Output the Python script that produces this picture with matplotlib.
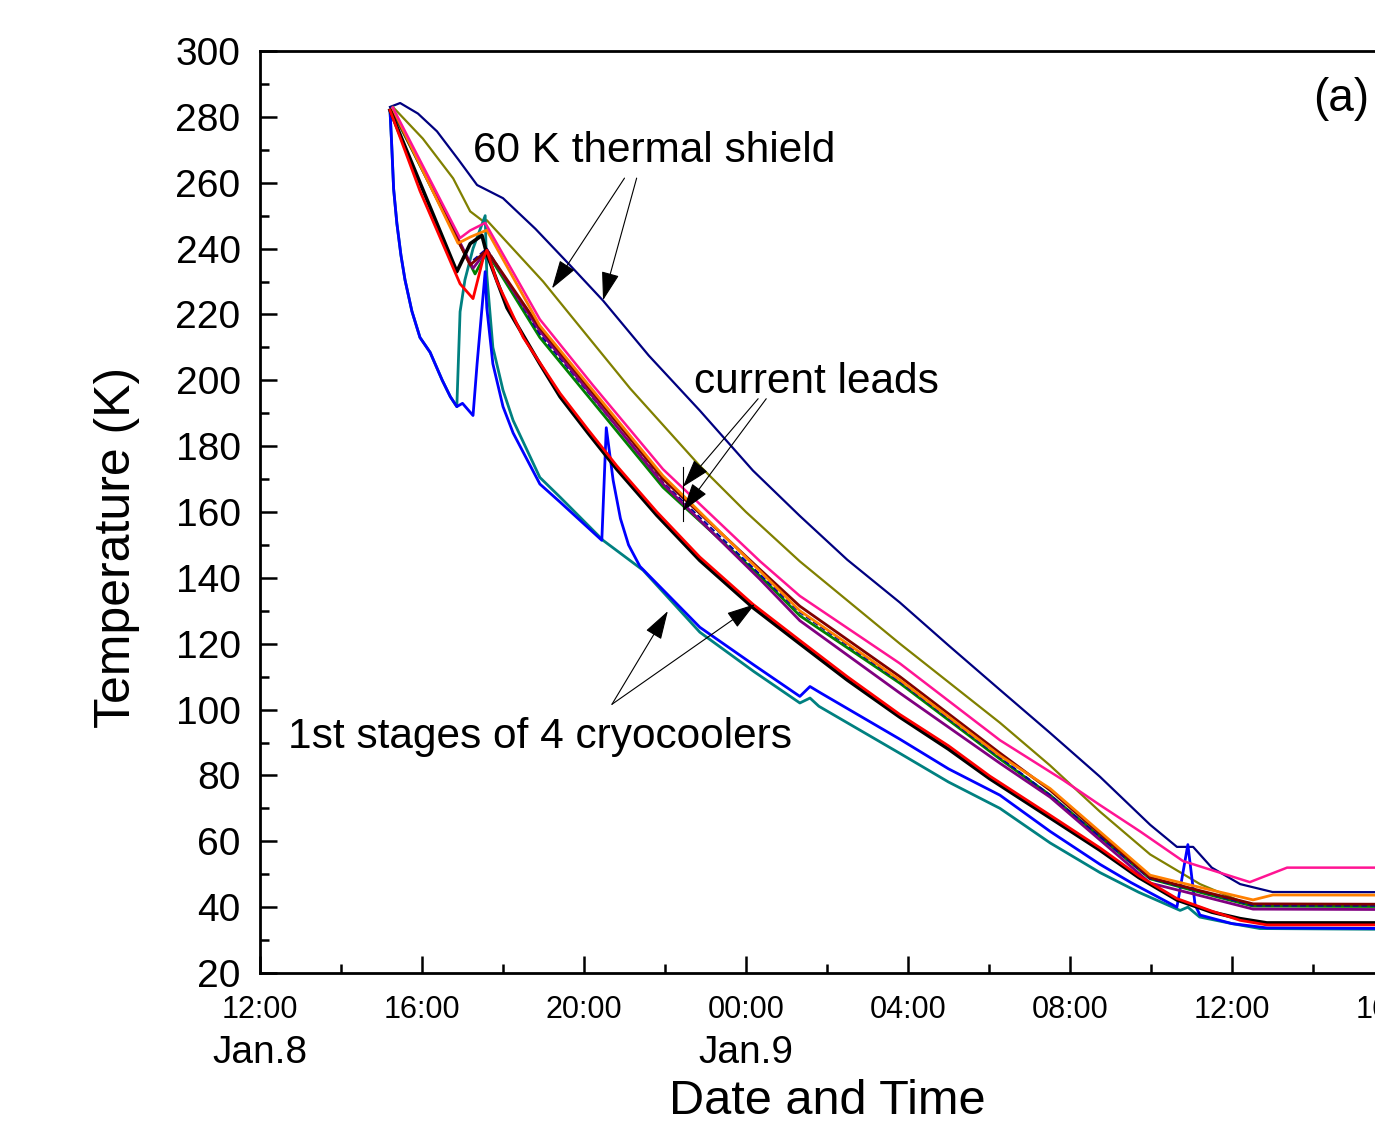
import matplotlib
matplotlib.use('Agg')
import matplotlib.pyplot as plt
from matplotlib.ticker import MultipleLocator

plt.rcParams['font.family'] = ['Liberation Sans', 'DejaVu Sans']

# time in hours after 12:00 Jan.8, temperature in K
navy_h = [3.21, 3.46, 3.9, 4.37, 4.9, 5.36, 6.0, 6.8, 7.65, 8.47, 9.6, 10.86, 12.17, 13.33, 14.5, 15.8, 17.0, 18.27, 19.5, 20.74, 21.98, 22.64, 23.04, 23.5, 24.2, 25.0, 30.0]
navy_T = [283, 284.2, 281, 275.6, 267, 259.3, 255.3, 246, 235, 224.2, 207.5, 190.8, 172.6, 158.8, 145.5, 132.5, 119.5, 106, 93, 79.6, 65, 58.3, 58.3, 52, 47, 44.6, 44.5]

olive_h = [3.28, 4.02, 4.77, 5.19, 5.51, 5.60, 6.99, 7.65, 9.14, 10.86, 12.0, 13.33, 15.8, 18.27, 19.51, 20.74, 21.98, 23.21, 24.44, 30.0]
olive_T = [283, 273.4, 261.3, 251.3, 248.3, 248.6, 230, 220, 197.5, 174, 160, 145, 120, 96, 83, 69, 56, 47, 40.6, 40.2]

pink_h = [3.28, 4.94, 5.19, 5.56, 6.91, 8.22, 9.95, 12.35, 13.33, 15.8, 18.27, 19.83, 20.74, 21.73, 22.79, 24.44, 25.36, 30.0]
pink_T = [282.8, 243.2, 245.5, 247.8, 218.5, 198.5, 173, 145, 134.5, 114, 90.7, 78.6, 71, 63, 54, 47.6, 52, 52]

orange_h = [3.28, 4.89, 5.19, 5.60, 6.91, 9.95, 12.35, 13.33, 15.8, 18.27, 19.51, 21.98, 23.21, 24.52, 25.01, 30.0]
orange_T = [282.5, 241.6, 243.5, 245.6, 216.6, 171, 142, 130, 109, 86, 76, 49.7, 46, 42.2, 43.7, 43.6]

brown_h = [3.28, 5.19, 5.60, 6.91, 9.95, 12.35, 13.33, 15.8, 18.27, 19.51, 21.98, 23.21, 24.52, 30.0]
brown_T = [282, 235, 239.5, 216, 170, 142.5, 131.4, 110, 86.8, 75.5, 49, 45, 41, 40.8]

purple_h = [3.28, 5.26, 5.60, 6.91, 9.95, 12.35, 13.33, 15.8, 18.27, 19.51, 21.98, 23.21, 24.52, 30.0]
purple_T = [282, 234, 239.5, 215, 168.5, 139.5, 127, 105, 83.7, 73.4, 47.3, 43.5, 39.4, 39.2]

green_h = [3.28, 5.31, 5.60, 6.91, 9.95, 12.35, 13.33, 15.8, 18.27, 19.51, 21.98, 23.21, 24.52, 30.0]
green_T = [281.5, 232.3, 239, 213, 167.5, 140.5, 128.5, 108, 85, 74, 48.6, 44.5, 40.3, 40.1]

royal_h = [3.28, 5.19, 5.60, 6.91, 9.95, 12.35, 13.33, 15.8, 18.27, 19.51, 21.98, 23.21, 24.52, 30.0]
royal_T = [282, 235.7, 240, 214, 169, 141, 129.5, 108.5, 85.5, 74, 48.6, 44.8, 40.5, 40.4]

black_h = [3.21, 3.95, 4.86, 5.19, 5.48, 5.60, 6.10, 6.91, 7.41, 8.1, 8.81, 9.8, 10.86, 12.17, 13.33, 14.5, 15.8, 17.0, 18.02, 19.4, 20.74, 21.7, 22.64, 23.5, 24.2, 24.86, 30.0]
black_T = [282, 260, 233, 241.5, 244, 238.4, 222, 205, 195, 184, 173, 159, 145.3, 131, 120, 109, 97.7, 88, 79, 68, 57.3, 49, 42.2, 38.5, 36.5, 35.2, 35.2]

red_h = [3.21, 3.95, 4.94, 5.26, 5.51, 5.60, 5.85, 6.5, 7.41, 8.1, 8.81, 9.8, 10.86, 12.17, 13.33, 14.5, 15.8, 17.0, 18.02, 19.4, 20.74, 21.7, 22.64, 23.5, 24.2, 24.86, 30.0]
red_T = [282, 257.5, 229.3, 224.8, 237, 239.5, 230, 213, 196, 185, 174, 160, 146.3, 132, 121, 110, 98.5, 89, 79.8, 68.8, 58, 49.5, 42.6, 38.8, 36, 34.6, 34.6]

teal_h = [3.21, 3.25, 3.3, 3.38, 3.48, 3.58, 3.75, 3.95, 4.2, 4.5, 4.7, 4.86, 4.94, 5.06, 5.26, 5.56, 5.6, 5.75, 6.0, 6.25, 6.91, 7.41, 8.47, 9.46, 10.86, 12.2, 13.33, 13.58, 13.8, 15.8, 17.0, 18.27, 19.51, 20.74, 21.7, 22.72, 22.91, 23.2, 24.0, 24.69, 30.0]
teal_T = [282, 272, 258, 247.6, 238, 230.5, 221, 213, 208.5, 200, 195, 192, 220.8, 230.5, 240, 250, 232, 210, 197, 187.8, 170.5, 164.5, 151.4, 142.3, 123.5, 111.5, 102, 103.5, 101, 86.7, 78, 70, 59.5, 50.5, 44.5, 39, 40, 37, 35, 33.5, 33.1]

blue_h = [3.21, 3.25, 3.3, 3.38, 3.48, 3.58, 3.75, 3.95, 4.2, 4.5, 4.7, 4.86, 5.0, 5.26, 5.36, 5.56, 5.6, 5.75, 6.0, 6.25, 6.91, 7.41, 8.44, 8.55, 8.72, 8.9, 9.1, 9.38, 10.86, 12.2, 13.33, 13.58, 13.85, 15.8, 17.0, 18.27, 19.51, 20.74, 21.5, 22.64, 22.91, 23.09, 23.21, 24.0, 24.86, 30.0]
blue_T = [282, 272, 258, 247.6, 238, 230.5, 221, 213, 208.5, 200, 195, 192, 193, 189.3, 205, 233, 222, 205, 192, 184, 168.5, 163, 151.4, 185.6, 169.6, 158, 150, 143.5, 125, 113.5, 104, 107, 105, 91, 82, 74, 63, 53, 47.5, 40, 59, 40.6, 37.6, 35, 33.7, 33.4]

xtick_pos = [0, 4, 8, 12, 16, 20, 24, 28, 32]
xtick_lab = ['12:00', '16:00', '20:00', '00:00', '04:00', '08:00', '12:00', '16:00', '20:00']

fig = plt.figure(figsize=(13.75, 11.27), dpi=100)
# the axes runs past the right edge of the figure, as in the cropped original
ax = fig.add_axes([260 / 1375, 154 / 1127, 1296 / 1375, 922 / 1127])

ax.plot(navy_h, navy_T, color='#000080', lw=1.6)
ax.plot(olive_h, olive_T, color='#808000', lw=1.6)
ax.plot(teal_h, teal_T, color='#008080', lw=2.0)
ax.plot(blue_h, blue_T, color='#0000FF', lw=2.0)
ax.plot(green_h, green_T, color='#008000', lw=2.0)
ax.plot(royal_h, royal_T, color='#0000A0', lw=1.4, ls=(0, (3, 1.5)))
ax.plot(purple_h, purple_T, color='#800080', lw=2.0)
ax.plot(brown_h, brown_T, color='#800000', lw=2.0)
ax.plot(orange_h, orange_T, color='#FF8000', lw=2.0)
ax.plot(pink_h, pink_T, color='#FF1493', lw=1.8)
ax.plot(black_h, black_T, color='black', lw=2.6)
ax.plot(red_h, red_T, color='#FF0000', lw=2.0)

ax.set_xlim(0, 32)
ax.set_ylim(20, 300)
ax.set_xticks(xtick_pos)
ax.set_xticklabels(xtick_lab)
ax.xaxis.set_minor_locator(MultipleLocator(2))
ax.yaxis.set_major_locator(MultipleLocator(20))
ax.yaxis.set_minor_locator(MultipleLocator(10))
ax.tick_params(which='both', direction='in', width=1.8, top=False, right=False)
ax.tick_params(which='major', length=12)
ax.tick_params(which='minor', length=6.5)
ax.tick_params(axis='x', which='major', labelsize=22, pad=16)
ax.tick_params(axis='y', which='major', labelsize=28, pad=14)
for s in ax.spines.values():
    s.set_linewidth(2)

ax.text(0, -0.087, 'Jan.8', transform=ax.get_xaxis_transform(), ha='center', va='center', fontsize=28)
ax.text(12, -0.087, 'Jan.9', transform=ax.get_xaxis_transform(), ha='center', va='center', fontsize=28)
fig.text(827 / 1375, 1 - 1101 / 1127, 'Date and Time', ha='center', va='center', fontsize=35)
fig.text(117 / 1375, 1 - 547 / 1127, 'Temperature (K)', ha='center', va='center', rotation=90, fontsize=36)

ax.text(26.7, 285.5, '(a)', ha='center', va='center', fontsize=33)
ax.text(5.26, 269.5, '60 K thermal shield', ha='left', va='center', fontsize=30.5)
ax.text(10.72, 199.5, 'current leads', ha='left', va='center', fontsize=30.5)
ax.text(0.69, 91.8, '1st stages of 4 cryocoolers', ha='left', va='center', fontsize=30.5)

arrow = dict(arrowstyle='-|>,head_length=0.9,head_width=0.28', color='black', lw=0.8,
             shrinkA=0, shrinkB=0, mutation_scale=20)
ax.annotate('', xy=(7.21, 227.9), xytext=(9.0, 261.4), arrowprops=arrow)
ax.annotate('', xy=(8.47, 224.3), xytext=(9.3, 261.4), arrowprops=arrow)
ax.annotate('', xy=(10.44, 167.6), xytext=(12.3, 194.4), arrowprops=arrow)
ax.annotate('', xy=(10.44, 160.3), xytext=(12.5, 194.4), arrowprops=arrow)
ax.annotate('', xy=(10.07, 129.9), xytext=(8.69, 101.6), arrowprops=arrow)
ax.annotate('', xy=(12.22, 132.0), xytext=(8.69, 101.6), arrowprops=arrow)
ax.plot([10.44, 10.44], [157.3, 173.7], color='black', lw=0.8)

fig.savefig('out.png', dpi=100)
